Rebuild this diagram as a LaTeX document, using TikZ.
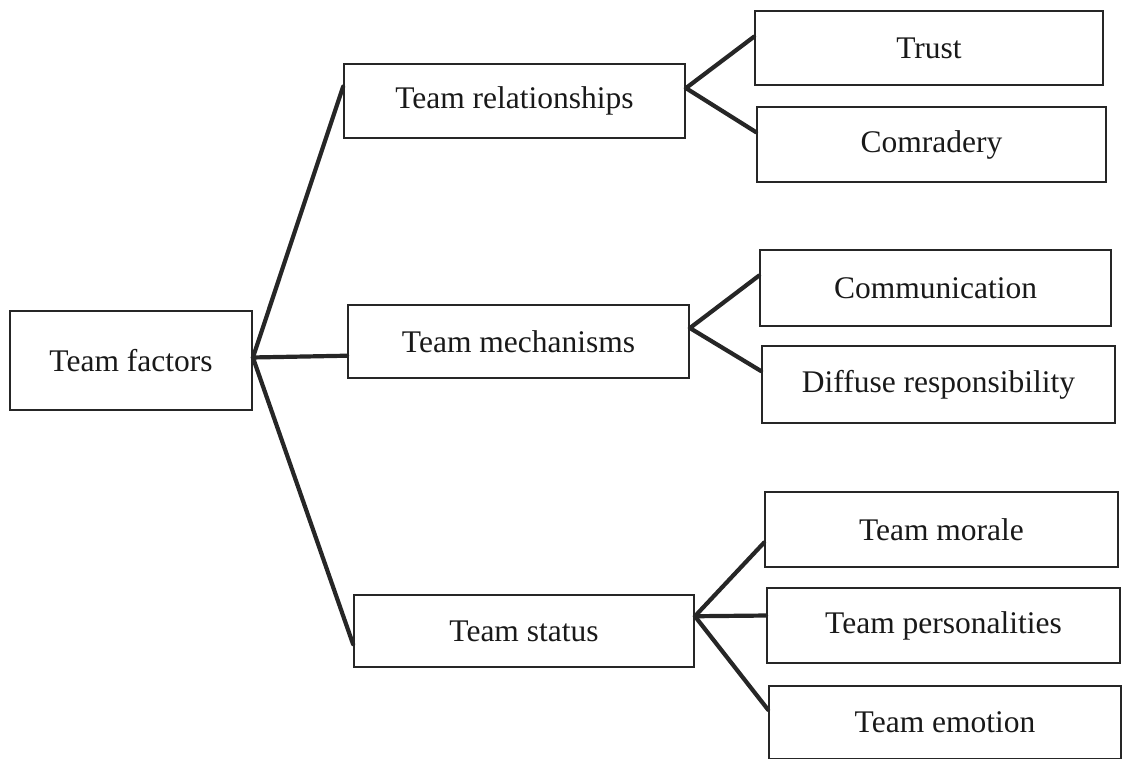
\documentclass[tikz,border=0pt]{standalone}
\usepackage{fontspec}
\setmainfont{Liberation Serif}
\usetikzlibrary{calc}
\begin{document}
\begin{tikzpicture}[x=1pt,y=-1pt,
  box/.style={draw=black!85, line width=1.8pt, rectangle, inner sep=0pt,
    font=\fontsize{31.5}{36}\selectfont, text=black!90},
  link/.style={draw=black!85, line width=4.2pt, line cap=round}]
\useasboundingbox (0,0) rectangle (1123,759);
\node[box, minimum width=242pt, minimum height=99pt] (tf) at (131,360.5) {Team factors};
\node[box, minimum width=341pt, minimum height=74pt] (rel) at (514.5,101) {Team relationships};
\node[box, minimum width=341pt, minimum height=73pt] (mech) at (518.5,341.5) {Team mechanisms};
\node[box, minimum width=340pt, minimum height=72pt] (stat) at (524,631) {Team status};
\node[box, minimum width=348pt, minimum height=74pt] (trust) at (929,48) {Trust};
\node[box, minimum width=349pt, minimum height=75pt] (comr) at (931.5,144.5) {Comradery};
\node[box, minimum width=351pt, minimum height=76pt] (comm) at (935.5,288) {Communication};
\node[box, minimum width=353pt, minimum height=77pt] (diff) at (938.5,384.5) {Diffuse responsibility};
\node[box, minimum width=353pt, minimum height=75pt] (mor) at (941.5,529.5) {Team morale};
\node[box, minimum width=353pt, minimum height=75pt] (pers) at (943.5,625.5) {Team personalities};
\node[box, minimum width=352pt, minimum height=73pt] (emo) at (945,722.5) {Team emotion};
% connectors
\coordinate (tfo) at ($(tf.north east)!0.47!(tf.south east)$);
\draw[link] (tfo) -- ($(rel.north west)!0.31!(rel.south west)$);
\draw[link] (tfo) -- ($(mech.north west)!0.69!(mech.south west)$);
\draw[link] (tfo) -- ($(stat.north west)!0.68!(stat.south west)$);
\coordinate (relo) at ($(rel.north east)!0.33!(rel.south east)$);
\draw[link] (relo) -- ($(trust.north west)!0.35!(trust.south west)$);
\draw[link] (relo) -- ($(comr.north west)!0.34!(comr.south west)$);
\coordinate (mecho) at ($(mech.north east)!0.32!(mech.south east)$);
\draw[link] (mecho) -- ($(comm.north west)!0.34!(comm.south west)$);
\draw[link] (mecho) -- ($(diff.north west)!0.33!(diff.south west)$);
\coordinate (stato) at ($(stat.north east)!0.30!(stat.south east)$);
\draw[link] (stato) -- ($(mor.north west)!0.67!(mor.south west)$);
\draw[link] (stato) -- ($(pers.north west)!0.37!(pers.south west)$);
\draw[link] (stato) -- ($(emo.north west)!0.33!(emo.south west)$);
\end{tikzpicture}
\end{document}
